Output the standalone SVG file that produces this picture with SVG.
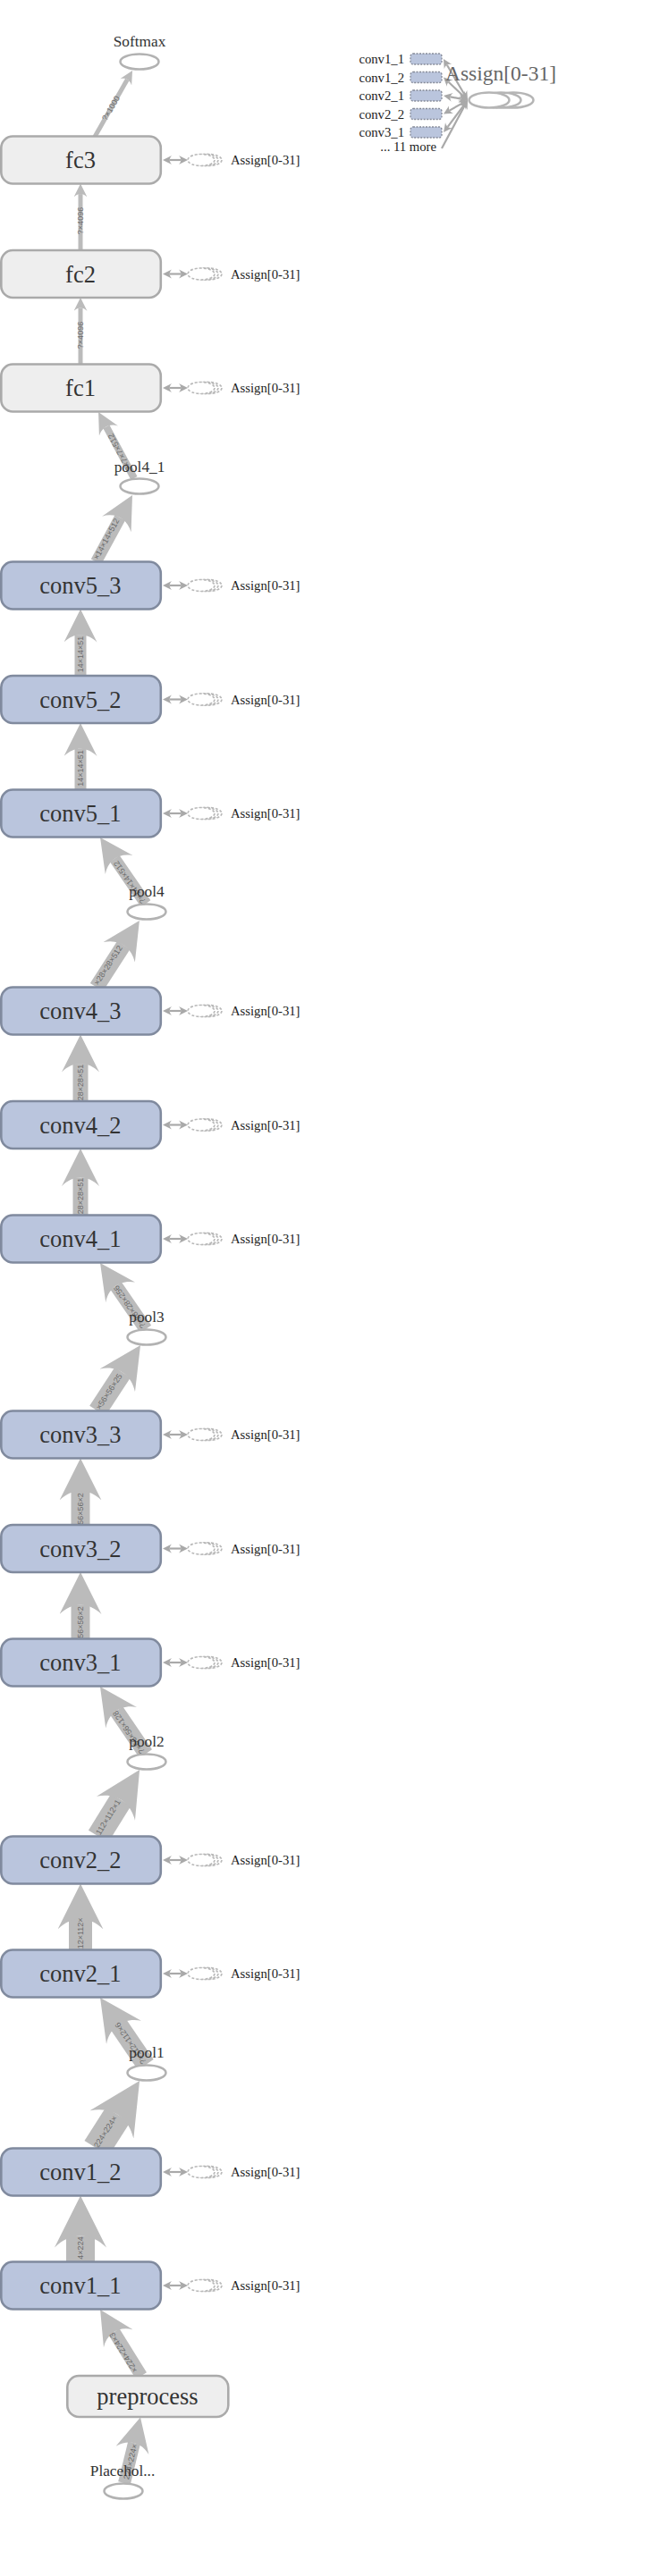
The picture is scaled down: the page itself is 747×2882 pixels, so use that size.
<svg xmlns="http://www.w3.org/2000/svg" width="747" height="2882" viewBox="0 0 747 2882">
<style>
.bg{fill:#ffffff}
.conv{fill:#bac5dd;stroke:#808a9e;stroke-width:2.6}
.fc{fill:#eeeeee;stroke:#aaaaaa;stroke-width:2.6}
.op{fill:#ffffff;stroke:#b2b2b2;stroke-width:2.5}
.nl{font-family:"Liberation Serif",serif;font-size:26.5px;fill:#333333;text-anchor:middle}
.pl{font-family:"Liberation Serif",serif;font-size:17.3px;fill:#333333;text-anchor:middle}
.al{font-family:"Liberation Serif",serif;font-size:14.7px;fill:#222222}
.e{fill:none;stroke:#bbbbbb;stroke-linecap:butt}
.el{font-family:"Liberation Sans",sans-serif;font-size:9px;fill:#6a6a6a;text-anchor:middle;dominant-baseline:central}
.asg{fill:none;stroke:#a9a9a9;stroke-width:2.2}
.ser{fill:#ffffff;stroke:#b8b8b8;stroke-width:1.6;stroke-dasharray:3 2}
.leg{fill:#bac5dd;stroke:#858a98;stroke-width:1.3;stroke-dasharray:2 1.5}
.lser{fill:#ffffff;stroke:#b5b5b5;stroke-width:2.5}
.ltitle{font-family:"Liberation Serif",serif;font-size:23.5px;fill:#666666}
</style>
<defs>
<marker id="mfc" viewBox="0 0 10 10" refX="2.25" refY="5" markerUnits="userSpaceOnUse" markerWidth="15" markerHeight="15" orient="auto"><path d="M0,0 L10,5 L0,10 C3,7 3,3 0,0 Z" fill="#bbbbbb"/></marker>
<marker id="mp41" viewBox="0 0 10 10" refX="2.25" refY="5" markerUnits="userSpaceOnUse" markerWidth="24" markerHeight="24" orient="auto"><path d="M0,0 L10,5 L0,10 C3,7 3,3 0,0 Z" fill="#bbbbbb"/></marker>
<marker id="mpre" viewBox="0 0 10 10" refX="2.25" refY="5" markerUnits="userSpaceOnUse" markerWidth="38" markerHeight="38" orient="auto"><path d="M0,0 L10,5 L0,10 C3,7 3,3 0,0 Z" fill="#bbbbbb"/></marker>
<marker id="mc5" viewBox="0 0 10 10" refX="2.25" refY="5" markerUnits="userSpaceOnUse" markerWidth="37" markerHeight="37" orient="auto"><path d="M0,0 L10,5 L0,10 C3,7 3,3 0,0 Z" fill="#bbbbbb"/></marker>
<marker id="mp3" viewBox="0 0 10 10" refX="2.25" refY="5" markerUnits="userSpaceOnUse" markerWidth="40" markerHeight="40" orient="auto"><path d="M0,0 L10,5 L0,10 C3,7 3,3 0,0 Z" fill="#bbbbbb"/></marker>
<marker id="mc4" viewBox="0 0 10 10" refX="2.25" refY="5" markerUnits="userSpaceOnUse" markerWidth="42" markerHeight="42" orient="auto"><path d="M0,0 L10,5 L0,10 C3,7 3,3 0,0 Z" fill="#bbbbbb"/></marker>
<marker id="mc3" viewBox="0 0 10 10" refX="2.25" refY="5" markerUnits="userSpaceOnUse" markerWidth="47" markerHeight="47" orient="auto"><path d="M0,0 L10,5 L0,10 C3,7 3,3 0,0 Z" fill="#bbbbbb"/></marker>
<marker id="mc2" viewBox="0 0 10 10" refX="2.25" refY="5" markerUnits="userSpaceOnUse" markerWidth="51" markerHeight="51" orient="auto"><path d="M0,0 L10,5 L0,10 C3,7 3,3 0,0 Z" fill="#bbbbbb"/></marker>
<marker id="mc1" viewBox="0 0 10 10" refX="2.25" refY="5" markerUnits="userSpaceOnUse" markerWidth="58" markerHeight="58" orient="auto"><path d="M0,0 L10,5 L0,10 C3,7 3,3 0,0 Z" fill="#bbbbbb"/></marker>
<marker id="ma" viewBox="0 0 10 10" refX="2.25" refY="5" markerUnits="userSpaceOnUse" markerWidth="10" markerHeight="11" orient="auto-start-reverse"><path d="M0,0 L10,5 L0,10 C3,7 3,3 0,0 Z" fill="#a9a9a9"/></marker>
</defs>
<rect class="bg" x="0" y="0" width="747" height="2882"/>

<g id="connectors">
<path class="e" stroke-width="5" d="M106,153 L142.3,89.1" marker-end="url(#mfc)"/>
<path class="e" stroke-width="5" d="M90,280 L90,217.1" marker-end="url(#mfc)"/>
<path class="e" stroke-width="5" d="M90,407.5 L90,344.6" marker-end="url(#mfc)"/>
<path class="e" stroke-width="8" d="M150,535 L118.9,477.4" marker-end="url(#mp41)"/>
<path class="e" stroke-width="13" d="M107.5,628.5 L134.3,579.2" marker-end="url(#mc5)"/>
<path class="e" stroke-width="13" d="M90,756 L90,710.2" marker-end="url(#mc5)"/>
<path class="e" stroke-width="13" d="M90,883.5 L90,837.7" marker-end="url(#mc5)"/>
<path class="e" stroke-width="13" d="M163,1011 L128.3,960.6" marker-end="url(#mc5)"/>
<path class="e" stroke-width="17" d="M108,1104.5 L138.3,1057.4" marker-end="url(#mc4)"/>
<path class="e" stroke-width="17" d="M90,1232 L90,1190.1" marker-end="url(#mc4)"/>
<path class="e" stroke-width="17" d="M90,1359.5 L90,1317.6" marker-end="url(#mc4)"/>
<path class="e" stroke-width="15" d="M163,1487 L129.6,1438.5" marker-end="url(#mp3)"/>
<path class="e" stroke-width="21" d="M109,1578.5 L137.1,1535.5" marker-end="url(#mc3)"/>
<path class="e" stroke-width="21" d="M90,1706 L90,1667.9" marker-end="url(#mc3)"/>
<path class="e" stroke-width="21" d="M90,1833.5 L90,1795.4" marker-end="url(#mc3)"/>
<path class="e" stroke-width="17" d="M163,1962 L130.3,1914" marker-end="url(#mc4)"/>
<path class="e" stroke-width="26" d="M110,2054.5 L135.3,2013.6" marker-end="url(#mc2)"/>
<path class="e" stroke-width="26" d="M90,2181.5 L90,2147" marker-end="url(#mc2)"/>
<path class="e" stroke-width="21" d="M163,2310 L132.5,2265.1" marker-end="url(#mc3)"/>
<path class="e" stroke-width="32" d="M108,2403.5 L131.9,2366" marker-end="url(#mc1)"/>
<path class="e" stroke-width="32" d="M90,2530.5 L90,2501.5" marker-end="url(#mc1)"/>
<path class="e" stroke-width="14" d="M158,2658 L127.6,2609" marker-end="url(#mpre)"/>
<path class="e" stroke-width="14" d="M139,2778 L150,2733.1" marker-end="url(#mpre)"/>

<text class="el" transform="translate(124,121) rotate(-60.1)">?×1000</text>
<text class="el" transform="translate(90,247) rotate(-90)">?×4096</text>
<text class="el" transform="translate(90,375) rotate(-90)">?×4096</text>
<text class="el" transform="translate(134,506) rotate(-118.4)">?×7×7×512</text>
<text class="el" transform="translate(119,603) rotate(-61.5)">×14×14×512</text>
<text class="el" transform="translate(90,732) rotate(-90)">14×14×51</text>
<text class="el" transform="translate(90,859.5) rotate(-90)">14×14×51</text>
<text class="el" transform="translate(145,987) rotate(-124.6)">?×14×14×512</text>
<text class="el" transform="translate(121,1080) rotate(-57.2)">×28×28×512</text>
<text class="el" transform="translate(90,1211) rotate(-90)">28×28×51</text>
<text class="el" transform="translate(90,1338) rotate(-90)">28×28×51</text>
<text class="el" transform="translate(145,1462) rotate(-124.6)">?×28×28×256</text>
<text class="el" transform="translate(122,1557) rotate(-56.9)">×56×56×25</text>
<text class="el" transform="translate(90,1688) rotate(-90)">56×56×2</text>
<text class="el" transform="translate(90,1815) rotate(-90)">56×56×2</text>
<text class="el" transform="translate(144,1938) rotate(-124.2)">?×56×56×128</text>
<text class="el" transform="translate(121,2033) rotate(-58.3)">112×112×1</text>
<text class="el" transform="translate(90,2165) rotate(-90)">112×112×</text>
<text class="el" transform="translate(146,2286) rotate(-124.2)">?×112×112×6</text>
<text class="el" transform="translate(118,2385) rotate(-57.6)">224×224×</text>
<text class="el" transform="translate(90,2515) rotate(-90)">4×224</text>
<text class="el" transform="translate(138,2632) rotate(-121.9)">×224×224×3</text>
<text class="el" transform="translate(146,2754) rotate(-76.2)">224×224×</text>
</g>

<g id="Softmax"><ellipse class="op" cx="156" cy="69" rx="21.5" ry="8.5"/><text class="pl" x="156" y="52">Softmax</text></g>
<g id="pool4_1"><ellipse class="op" cx="156" cy="544" rx="21.5" ry="8.5"/><text class="pl" x="156" y="528">pool4_1</text></g>
<g id="pool4"><ellipse class="op" cx="164" cy="1020" rx="21.5" ry="8.5"/><text class="pl" x="164" y="1003">pool4</text></g>
<g id="pool3"><ellipse class="op" cx="164" cy="1496" rx="21.5" ry="8.5"/><text class="pl" x="164" y="1479">pool3</text></g>
<g id="pool2"><ellipse class="op" cx="164" cy="1971" rx="21.5" ry="8.5"/><text class="pl" x="164" y="1954">pool2</text></g>
<g id="pool1"><ellipse class="op" cx="164" cy="2319" rx="21.5" ry="8.5"/><text class="pl" x="164" y="2302">pool1</text></g>
<g id="Placeholder"><ellipse class="op" cx="138" cy="2787" rx="21.5" ry="8.5"/><text class="pl" x="137" y="2770">Placehol...</text></g>
<g id="preprocess"><rect class="fc" x="75.3" y="2658" width="180" height="46" rx="13"/><text class="nl" x="165" y="2690">preprocess</text></g>

<g id="fc3"><rect class="fc" x="1.3" y="152.5" width="178.5" height="53" rx="13"/><text class="nl" x="90" y="188">fc3</text>
<line class="asg" x1="189.75" y1="179" x2="202.25" y2="179" marker-start="url(#ma)" marker-end="url(#ma)"/><ellipse class="ser" cx="233" cy="179" rx="15" ry="6.5"/><ellipse class="ser" cx="229" cy="179" rx="15" ry="6.5"/><ellipse class="ser" cx="225" cy="179" rx="15" ry="6.5"/><text class="al" x="258" y="184.3">Assign[0-31]</text></g>
<g id="fc2"><rect class="fc" x="1.3" y="280" width="178.5" height="53" rx="13"/><text class="nl" x="90" y="315.5">fc2</text>
<line class="asg" x1="189.75" y1="306.5" x2="202.25" y2="306.5" marker-start="url(#ma)" marker-end="url(#ma)"/><ellipse class="ser" cx="233" cy="306.5" rx="15" ry="6.5"/><ellipse class="ser" cx="229" cy="306.5" rx="15" ry="6.5"/><ellipse class="ser" cx="225" cy="306.5" rx="15" ry="6.5"/><text class="al" x="258" y="311.8">Assign[0-31]</text></g>
<g id="fc1"><rect class="fc" x="1.3" y="407.5" width="178.5" height="53" rx="13"/><text class="nl" x="90" y="443">fc1</text>
<line class="asg" x1="189.75" y1="434" x2="202.25" y2="434" marker-start="url(#ma)" marker-end="url(#ma)"/><ellipse class="ser" cx="233" cy="434" rx="15" ry="6.5"/><ellipse class="ser" cx="229" cy="434" rx="15" ry="6.5"/><ellipse class="ser" cx="225" cy="434" rx="15" ry="6.5"/><text class="al" x="258" y="439.3">Assign[0-31]</text></g>

<g id="conv5_3"><rect class="conv" x="1.3" y="628.5" width="178.5" height="53" rx="13"/><text class="nl" x="90" y="664">conv5_3</text>
<line class="asg" x1="189.75" y1="655" x2="202.25" y2="655" marker-start="url(#ma)" marker-end="url(#ma)"/><ellipse class="ser" cx="233" cy="655" rx="15" ry="6.5"/><ellipse class="ser" cx="229" cy="655" rx="15" ry="6.5"/><ellipse class="ser" cx="225" cy="655" rx="15" ry="6.5"/><text class="al" x="258" y="660.3">Assign[0-31]</text></g>
<g id="conv5_2"><rect class="conv" x="1.3" y="756" width="178.5" height="53" rx="13"/><text class="nl" x="90" y="791.5">conv5_2</text>
<line class="asg" x1="189.75" y1="782.5" x2="202.25" y2="782.5" marker-start="url(#ma)" marker-end="url(#ma)"/><ellipse class="ser" cx="233" cy="782.5" rx="15" ry="6.5"/><ellipse class="ser" cx="229" cy="782.5" rx="15" ry="6.5"/><ellipse class="ser" cx="225" cy="782.5" rx="15" ry="6.5"/><text class="al" x="258" y="787.8">Assign[0-31]</text></g>
<g id="conv5_1"><rect class="conv" x="1.3" y="883.5" width="178.5" height="53" rx="13"/><text class="nl" x="90" y="919">conv5_1</text>
<line class="asg" x1="189.75" y1="910" x2="202.25" y2="910" marker-start="url(#ma)" marker-end="url(#ma)"/><ellipse class="ser" cx="233" cy="910" rx="15" ry="6.5"/><ellipse class="ser" cx="229" cy="910" rx="15" ry="6.5"/><ellipse class="ser" cx="225" cy="910" rx="15" ry="6.5"/><text class="al" x="258" y="915.3">Assign[0-31]</text></g>

<g id="conv4_3"><rect class="conv" x="1.3" y="1104.5" width="178.5" height="53" rx="13"/><text class="nl" x="90" y="1140">conv4_3</text>
<line class="asg" x1="189.75" y1="1131" x2="202.25" y2="1131" marker-start="url(#ma)" marker-end="url(#ma)"/><ellipse class="ser" cx="233" cy="1131" rx="15" ry="6.5"/><ellipse class="ser" cx="229" cy="1131" rx="15" ry="6.5"/><ellipse class="ser" cx="225" cy="1131" rx="15" ry="6.5"/><text class="al" x="258" y="1136.3">Assign[0-31]</text></g>
<g id="conv4_2"><rect class="conv" x="1.3" y="1232" width="178.5" height="53" rx="13"/><text class="nl" x="90" y="1267.5">conv4_2</text>
<line class="asg" x1="189.75" y1="1258.5" x2="202.25" y2="1258.5" marker-start="url(#ma)" marker-end="url(#ma)"/><ellipse class="ser" cx="233" cy="1258.5" rx="15" ry="6.5"/><ellipse class="ser" cx="229" cy="1258.5" rx="15" ry="6.5"/><ellipse class="ser" cx="225" cy="1258.5" rx="15" ry="6.5"/><text class="al" x="258" y="1263.8">Assign[0-31]</text></g>
<g id="conv4_1"><rect class="conv" x="1.3" y="1359.5" width="178.5" height="53" rx="13"/><text class="nl" x="90" y="1395">conv4_1</text>
<line class="asg" x1="189.75" y1="1386" x2="202.25" y2="1386" marker-start="url(#ma)" marker-end="url(#ma)"/><ellipse class="ser" cx="233" cy="1386" rx="15" ry="6.5"/><ellipse class="ser" cx="229" cy="1386" rx="15" ry="6.5"/><ellipse class="ser" cx="225" cy="1386" rx="15" ry="6.5"/><text class="al" x="258" y="1391.3">Assign[0-31]</text></g>

<g id="conv3_3"><rect class="conv" x="1.3" y="1578.5" width="178.5" height="53" rx="13"/><text class="nl" x="90" y="1614">conv3_3</text>
<line class="asg" x1="189.75" y1="1605" x2="202.25" y2="1605" marker-start="url(#ma)" marker-end="url(#ma)"/><ellipse class="ser" cx="233" cy="1605" rx="15" ry="6.5"/><ellipse class="ser" cx="229" cy="1605" rx="15" ry="6.5"/><ellipse class="ser" cx="225" cy="1605" rx="15" ry="6.5"/><text class="al" x="258" y="1610.3">Assign[0-31]</text></g>
<g id="conv3_2"><rect class="conv" x="1.3" y="1706" width="178.5" height="53" rx="13"/><text class="nl" x="90" y="1741.5">conv3_2</text>
<line class="asg" x1="189.75" y1="1732.5" x2="202.25" y2="1732.5" marker-start="url(#ma)" marker-end="url(#ma)"/><ellipse class="ser" cx="233" cy="1732.5" rx="15" ry="6.5"/><ellipse class="ser" cx="229" cy="1732.5" rx="15" ry="6.5"/><ellipse class="ser" cx="225" cy="1732.5" rx="15" ry="6.5"/><text class="al" x="258" y="1737.8">Assign[0-31]</text></g>
<g id="conv3_1"><rect class="conv" x="1.3" y="1833.5" width="178.5" height="53" rx="13"/><text class="nl" x="90" y="1869">conv3_1</text>
<line class="asg" x1="189.75" y1="1860" x2="202.25" y2="1860" marker-start="url(#ma)" marker-end="url(#ma)"/><ellipse class="ser" cx="233" cy="1860" rx="15" ry="6.5"/><ellipse class="ser" cx="229" cy="1860" rx="15" ry="6.5"/><ellipse class="ser" cx="225" cy="1860" rx="15" ry="6.5"/><text class="al" x="258" y="1865.3">Assign[0-31]</text></g>

<g id="conv2_2"><rect class="conv" x="1.3" y="2054.5" width="178.5" height="53" rx="13"/><text class="nl" x="90" y="2090">conv2_2</text>
<line class="asg" x1="189.75" y1="2081" x2="202.25" y2="2081" marker-start="url(#ma)" marker-end="url(#ma)"/><ellipse class="ser" cx="233" cy="2081" rx="15" ry="6.5"/><ellipse class="ser" cx="229" cy="2081" rx="15" ry="6.5"/><ellipse class="ser" cx="225" cy="2081" rx="15" ry="6.5"/><text class="al" x="258" y="2086.3">Assign[0-31]</text></g>
<g id="conv2_1"><rect class="conv" x="1.3" y="2181.5" width="178.5" height="53" rx="13"/><text class="nl" x="90" y="2217">conv2_1</text>
<line class="asg" x1="189.75" y1="2208" x2="202.25" y2="2208" marker-start="url(#ma)" marker-end="url(#ma)"/><ellipse class="ser" cx="233" cy="2208" rx="15" ry="6.5"/><ellipse class="ser" cx="229" cy="2208" rx="15" ry="6.5"/><ellipse class="ser" cx="225" cy="2208" rx="15" ry="6.5"/><text class="al" x="258" y="2213.3">Assign[0-31]</text></g>

<g id="conv1_2"><rect class="conv" x="1.3" y="2403.5" width="178.5" height="53" rx="13"/><text class="nl" x="90" y="2439">conv1_2</text>
<line class="asg" x1="189.75" y1="2430" x2="202.25" y2="2430" marker-start="url(#ma)" marker-end="url(#ma)"/><ellipse class="ser" cx="233" cy="2430" rx="15" ry="6.5"/><ellipse class="ser" cx="229" cy="2430" rx="15" ry="6.5"/><ellipse class="ser" cx="225" cy="2430" rx="15" ry="6.5"/><text class="al" x="258" y="2435.3">Assign[0-31]</text></g>
<g id="conv1_1"><rect class="conv" x="1.3" y="2530.5" width="178.5" height="53" rx="13"/><text class="nl" x="90" y="2566">conv1_1</text>
<line class="asg" x1="189.75" y1="2557" x2="202.25" y2="2557" marker-start="url(#ma)" marker-end="url(#ma)"/><ellipse class="ser" cx="233" cy="2557" rx="15" ry="6.5"/><ellipse class="ser" cx="229" cy="2557" rx="15" ry="6.5"/><ellipse class="ser" cx="225" cy="2557" rx="15" ry="6.5"/><text class="al" x="258" y="2562.3">Assign[0-31]</text></g>

<g id="Assign_legend">
<path class="asg" d="M499.9,72.7 L519.1,105.3" marker-start="url(#ma)" marker-end="url(#ma)"/>
<path class="asg" d="M501.6,91.8 L517.4,106.7" marker-start="url(#ma)" marker-end="url(#ma)"/>
<path class="asg" d="M503.6,108.4 L515.4,110.6" marker-start="url(#ma)" marker-end="url(#ma)"/>
<path class="asg" d="M502.7,123.6 L516.3,115.9" marker-start="url(#ma)" marker-end="url(#ma)"/>
<path class="asg" d="M500.7,141.8 L518.4,118.2" marker-start="url(#ma)" marker-end="url(#ma)"/>
<path class="asg" d="M494,166 L519.3,118.8" marker-end="url(#ma)"/>
<ellipse class="lser" cx="574" cy="112" rx="22.5" ry="8.5"/>
<ellipse class="lser" cx="560" cy="112" rx="22.5" ry="8.5"/>
<ellipse class="lser" cx="547" cy="112" rx="22.5" ry="8.5"/>
<text class="ltitle" x="498" y="90">Assign[0-31]</text>
<rect class="leg" x="459" y="60" width="35" height="12" rx="3"/>
<rect class="leg" x="459" y="80.5" width="35" height="12" rx="3"/>
<rect class="leg" x="459" y="101" width="35" height="12" rx="3"/>
<rect class="leg" x="459" y="121.5" width="35" height="12" rx="3"/>
<rect class="leg" x="459" y="142" width="35" height="12" rx="3"/>
<text class="al" x="452" y="71" text-anchor="end">conv1_1</text>
<text class="al" x="452" y="91.5" text-anchor="end">conv1_2</text>
<text class="al" x="452" y="112" text-anchor="end">conv2_1</text>
<text class="al" x="452" y="132.5" text-anchor="end">conv2_2</text>
<text class="al" x="452" y="153" text-anchor="end">conv3_1</text>
<text class="al" x="488" y="169" text-anchor="end">... 11 more</text>
</g>
</svg>
